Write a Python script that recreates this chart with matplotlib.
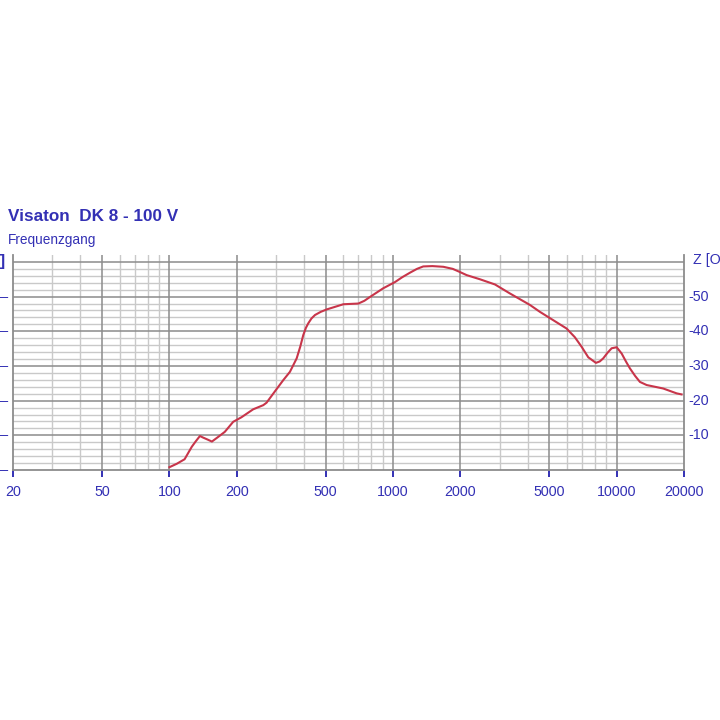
import matplotlib
matplotlib.use("Agg")
import matplotlib.pyplot as plt
import matplotlib.transforms as mtransforms
import numpy as np

# curve (frequency in Hz, level)
freq = [100, 108, 117, 126, 131, 137, 141, 148, 155, 165, 177, 193, 210, 237,
        263, 272, 292, 323, 346, 371, 385, 397, 408, 418, 432, 448, 475, 505,
        600, 700, 745, 789, 904, 1021, 1100, 1191, 1280, 1365, 1500, 1679,
        1850, 1990, 2134, 2448, 2858, 3334, 4095, 4539, 5206, 5971, 6500,
        6976, 7465, 8076, 8400, 8709, 9100, 9494, 10000, 10525, 11000, 11463,
        12100, 12707, 13620, 16150, 18540, 19500]
level = [0.8, 1.8, 3.1, 6.7, 8.2, 9.8, 9.4, 8.8, 8.2, 9.5, 11.0, 13.9, 15.2,
         17.5, 18.7, 19.4, 22.1, 25.9, 28.3, 32.2, 35.6, 38.9, 41.0, 42.3,
         43.7, 44.7, 45.6, 46.3, 47.8, 48.0, 48.8, 49.9, 52.4, 54.2, 55.6,
         56.9, 58.0, 58.7, 58.8, 58.6, 58.0, 57.1, 56.2, 55.0, 53.5, 50.9,
         47.6, 45.6, 43.2, 40.8, 38.3, 35.5, 32.5, 30.9, 31.3, 32.2, 33.8,
         35.1, 35.4, 33.6, 31.3, 29.3, 27.1, 25.4, 24.5, 23.5, 22.1, 21.8]

x_ticks = [20, 50, 100, 200, 500, 1000, 2000, 5000, 10000, 20000]
x_minor = [30, 40, 60, 70, 80, 90, 300, 400, 600, 700, 800, 900,
           3000, 4000, 6000, 7000, 8000, 9000]
y_major = [10, 20, 30, 40, 50, 60]
y_right_labels = [10, 20, 30, 40, 50]

BLUE = "#3330b4"
MAJOR = "#8c8c8c"
MINOR = "#c9c9c9"
CURVE = "#c8354a"
FONT = "Liberation Sans"

plt.rcParams["font.family"] = FONT

fig = plt.figure(figsize=(7.2, 7.2), dpi=100)
fig.patch.set_facecolor("white")
W = H = 720.0
ax = fig.add_axes([13 / W, (H - 470) / H, (684 - 13) / W, (470 - 255) / H])
ax.set_xscale("log")
ax.set_xlim(20, 20000)
ax.set_ylim(0, 62)

# grid
for v in np.arange(2, 60, 2):
    if v % 10:
        ax.axhline(v, color=MINOR, lw=1.0, zorder=1)
for v in y_major:
    ax.axhline(v, color=MAJOR, lw=1.1, zorder=2)
for f in x_minor:
    ax.axvline(f, color=MINOR, lw=1.0, zorder=1)
for f in x_ticks[1:-1]:
    ax.axvline(f, color=MAJOR, lw=1.1, zorder=2)

ax.spines["top"].set_visible(False)
for side in ["left", "right", "bottom"]:
    ax.spines[side].set_color(MAJOR)
    ax.spines[side].set_linewidth(1.3)

ax.plot(freq, level, color=CURVE, lw=1.5, zorder=5)

ax.set_xticks(x_ticks)
ax.set_xticklabels([str(t) for t in x_ticks])
ax.xaxis.set_minor_locator(matplotlib.ticker.NullLocator())
ax.tick_params(axis="x", colors=BLUE, direction="out", length=5, width=1.4,
               labelsize=10.3, pad=6, labelcolor=BLUE)
ax.set_yticks([])

# right side labels
trans = mtransforms.blended_transform_factory(ax.transAxes, ax.transData)
for v in y_right_labels:
    ax.text(1.006, v, f"-{v}", transform=trans, color=BLUE, fontsize=10.3,
            ha="left", va="center", clip_on=False)
ax.text(1.013, 60.5, "Z [Ohm]", transform=trans, color=BLUE, fontsize=10.3,
        ha="left", va="center", clip_on=False)

# left side labels (cut off by the image edge)
ltrans = mtransforms.blended_transform_factory(fig.transFigure, ax.transData)
for v in [0] + y_major[:-1]:
    ax.text(8 / W, v, "\u2013", transform=ltrans, color=BLUE, fontsize=10.5,
            ha="right", va="center", clip_on=False)
ax.text(5 / W, 60.0, "[dB]", transform=ltrans, color=BLUE, fontsize=12,
        fontweight="bold", ha="right", va="center", clip_on=False)

fig.text(8 / W, 1 - 216 / H, "Visaton  DK 8 - 100 V", color=BLUE,
         fontsize=12.3, fontweight="bold", ha="left", va="center")
fig.text(8 / W, 1 - 240 / H, "Frequenzgang", color=BLUE, fontsize=9.8,
         ha="left", va="center")

fig.savefig("out.png", dpi=100)
